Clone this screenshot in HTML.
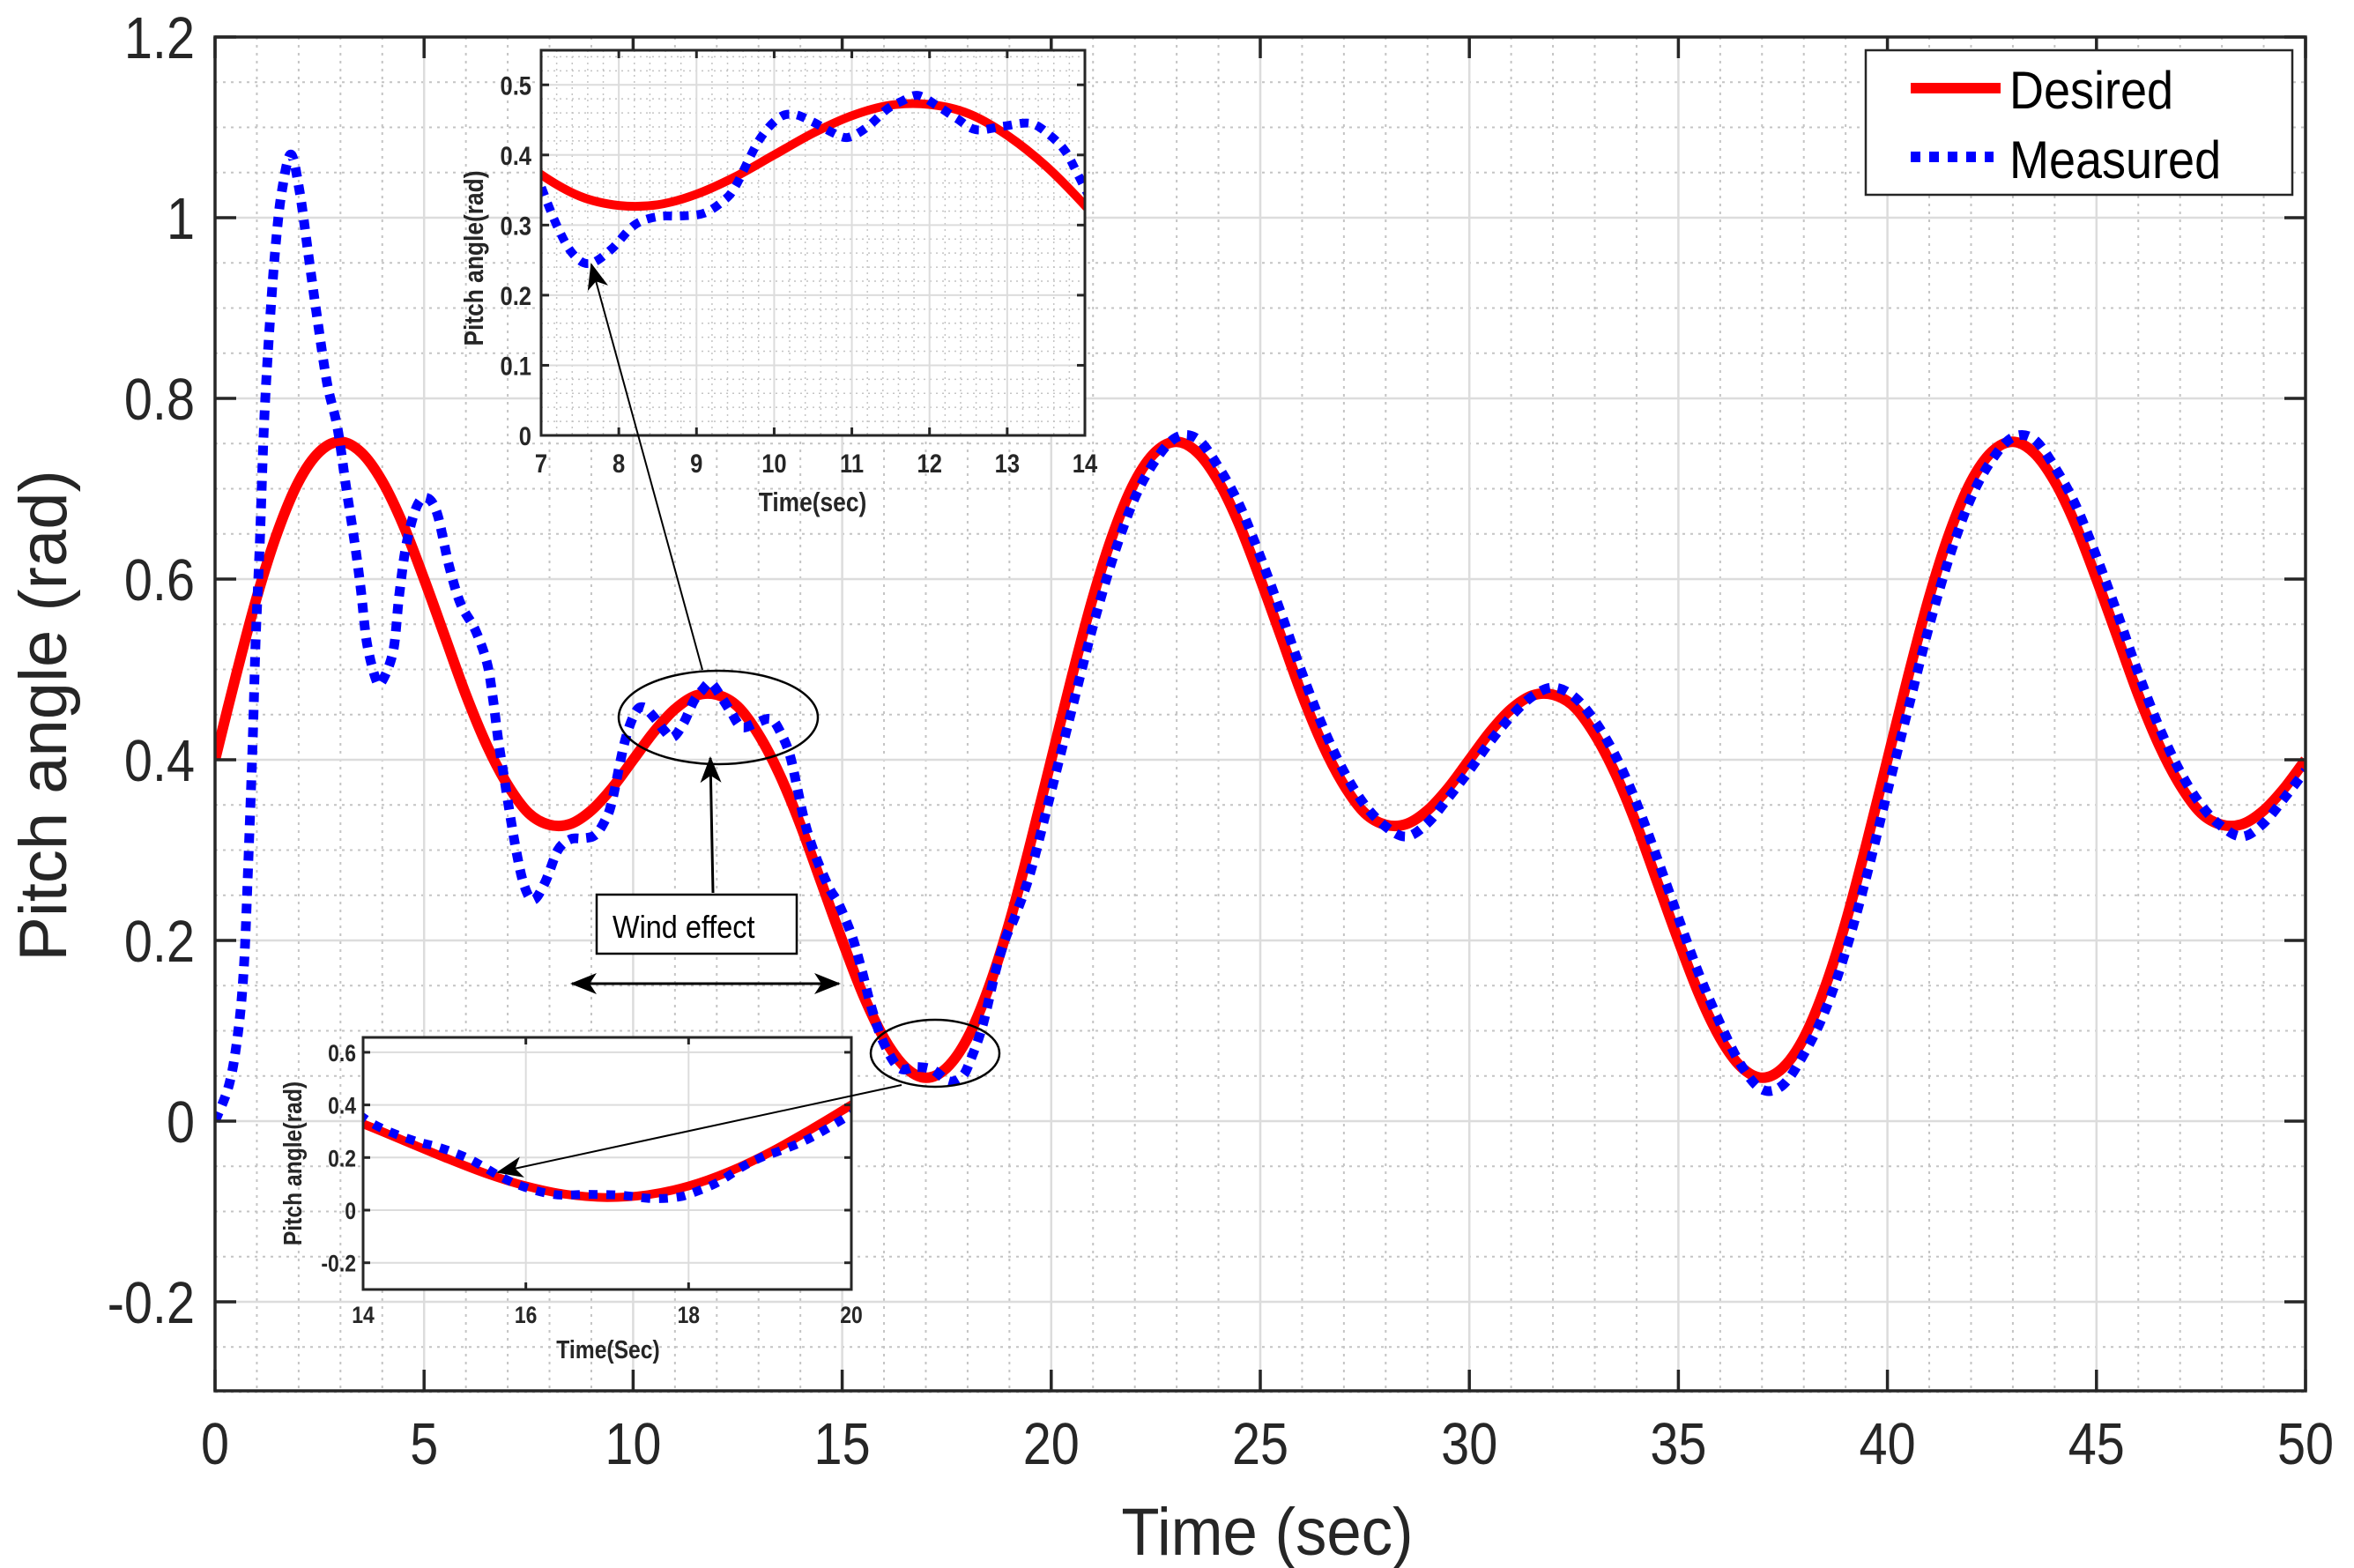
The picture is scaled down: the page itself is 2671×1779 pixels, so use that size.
<!DOCTYPE html>
<html><head><meta charset="utf-8">
<style>
html,body{margin:0;padding:0;background:#fff;}
svg{display:block;font-family:"Liberation Sans",Arial,sans-serif;}
</style></head>
<body>
<svg id="chart" xmlns="http://www.w3.org/2000/svg" width="2671" height="1779" viewBox="0 0 2671 1779">
<defs>
<clipPath id="clipMain"><rect x="244" y="42" width="2372" height="1538"/></clipPath>
<clipPath id="clipIn1"><rect x="614" y="57" width="617" height="437"/></clipPath>
<clipPath id="clipIn2"><rect x="412" y="1177" width="554" height="286"/></clipPath>
<marker id="ah" viewBox="0 0 30 24" refX="28" refY="12" markerWidth="30" markerHeight="24" markerUnits="userSpaceOnUse" orient="auto">
<path d="M0,0 L30,12 L0,24 L8,12 Z" fill="#000"/></marker>
</defs>
<rect x="0" y="0" width="2671" height="1779" fill="#fff"/>
<g id="mainGrid"></g>
<g id="mainSeries" clip-path="url(#clipMain)"></g>
<g id="mainAxes"></g>
<g id="annot"></g>
<g id="inset1"></g>
<g id="inset2"></g>
<g id="annotTop"></g>
<g id="legend"></g>
</svg>
<script>
// ---- data ----
const desiredV = [
0.400,0.493,0.580,0.653,0.708,0.741,0.752,0.740,0.708,0.660,0.600,0.536,0.472,0.416,0.372,0.341,0.328,0.329,0.344,0.369,
0.400,0.431,0.456,0.471,0.472,0.459,0.428,0.384,0.328,0.264,0.200,0.140,0.092,0.060,0.048,0.059,0.092,0.147,0.220,0.307,
0.400,0.493,0.580,0.653,0.708,0.741,0.752,0.740,0.708,0.660,0.600,0.536,0.472,0.416,0.372,0.341,0.328,0.329,0.344,0.369,
0.400,0.431,0.456,0.471,0.472,0.459,0.428,0.384,0.328,0.264,0.200,0.140,0.092,0.060,0.048,0.059,0.092,0.147,0.220,0.307,
0.400,0.493,0.580,0.653,0.708,0.741,0.752,0.740,0.708,0.660,0.600,0.536,0.472,0.416,0.372,0.341,0.328,0.329,0.344,0.369,
0.400];
const desiredStep = 0.5;
const measEarlyT = [0,0.34,0.55,0.69,0.79,0.90,0.97,1.07,1.18,1.32,1.46,1.6,1.81,2.02,2.23,2.44,2.68,2.93,3.14,3.35,3.49,3.63,3.84,3.98,4.26,4.4,4.57,4.82,5.06,5.31,5.59,5.87,6.22,6.5,6.64,6.78,6.92,7.0,7.2,7.4,7.62,7.9,8.2,8.5,8.8,9.1,9.35,9.5,9.8,10.05,10.25,10.5,10.75,10.95,11.2,11.45,11.65,11.85,12.1,12.35,12.6,12.95,13.3,13.55,13.75,13.92,14.11,14.35,14.68,14.92,15.24,15.48,15.68,15.96,16.36,16.76,17.16,17.56,17.88,18.08,18.36,18.68,18.92,19.12,19.5];
const measEarlyV = [0,0.041,0.098,0.17,0.28,0.42,0.53,0.64,0.78,0.89,0.975,1.03,1.07,1.03,0.96,0.89,0.817,0.767,0.70,0.637,0.587,0.53,0.49,0.486,0.52,0.58,0.637,0.68,0.69,0.673,0.616,0.573,0.544,0.508,0.47,0.42,0.379,0.355,0.30,0.26,0.245,0.265,0.30,0.312,0.313,0.317,0.335,0.355,0.42,0.452,0.458,0.447,0.432,0.425,0.44,0.465,0.477,0.485,0.47,0.452,0.436,0.441,0.445,0.428,0.405,0.37,0.33,0.295,0.259,0.24,0.204,0.165,0.129,0.09,0.059,0.06,0.057,0.044,0.05,0.069,0.106,0.168,0.204,0.225,0.275];
const measLateStart = 20, measLateStep = 0.5;
const measLateV = [0.365,0.457,0.548,0.627,0.690,0.732,0.757,0.755,0.724,0.682,0.625,0.562,0.496,0.436,0.387,0.350,0.326,0.315,0.330,0.358,
0.388,0.420,0.448,0.470,0.480,0.470,0.443,0.404,0.352,0.290,0.225,0.162,0.108,0.062,0.035,0.040,0.074,0.121,0.188,0.271,
0.365,0.457,0.548,0.627,0.690,0.732,0.757,0.755,0.724,0.682,0.625,0.562,0.496,0.436,0.387,0.350,0.326,0.315,0.330,0.358,0.388];
const xTicksMain = ["0","5","10","15","20","25","30","35","40","45","50"];
const yTicksMain = ["-0.2","0","0.2","0.4","0.6","0.8","1","1.2"];
const xTicksIn1 = ["7","8","9","10","11","12","13","14"];
const yTicksIn1 = ["0","0.1","0.2","0.3","0.4","0.5"];
const xTicksIn2 = ["14","16","18","20"];
const yTicksIn2 = ["-0.2","0","0.2","0.4","0.6"];
const legendLabels = ["Desired","Measured"];

const NS="http://www.w3.org/2000/svg";
function mk(tag, parent, attrs){const e=document.createElementNS(NS,tag);for(const k in attrs)e.setAttribute(k,attrs[k]);parent.appendChild(e);return e;}
function condense(t,f){const w=t.getComputedTextLength();t.setAttribute('textLength',(w*f).toFixed(1));t.setAttribute('lengthAdjust','spacingAndGlyphs');}

const desT=[],desV=[];
for(let i=0;i<desiredV.length;i++){desT.push(i*desiredStep);desV.push(desiredV[i]);}
const mT=measEarlyT.slice(), mV=measEarlyV.slice();
for(let i=0;i<measLateV.length;i++){mT.push(measLateStart+i*measLateStep);mV.push(measLateV[i]);}

function pathFrom(T,V,X,Y){
  const p=T.map((t,i)=>[X(t),Y(V[i])]);
  let d="M"+p[0][0].toFixed(1)+","+p[0][1].toFixed(1);
  for(let i=0;i<p.length-1;i++){
    const p0=p[Math.max(0,i-1)],p1=p[i],p2=p[i+1],p3=p[Math.min(p.length-1,i+2)];
    const c1x=p1[0]+(p2[0]-p0[0])/6,c1y=p1[1]+(p2[1]-p0[1])/6;
    const c2x=p2[0]-(p3[0]-p1[0])/6,c2y=p2[1]-(p3[1]-p1[1])/6;
    d+=" C"+c1x.toFixed(1)+","+c1y.toFixed(1)+" "+c2x.toFixed(1)+","+c2y.toFixed(1)+" "+p2[0].toFixed(1)+","+p2[1].toFixed(1);
  }
  return d;
}

// ---- main axes ----
const mX=t=>244+t*47.44, mY=v=>1272-v*1025;
const g=document.getElementById('mainGrid');
for(let t=0;t<=50;t++){ if(t%5===0) continue;
  const l=mk('line',g,{x1:mX(t),x2:mX(t),y1:42,y2:1580,stroke:'#c4c4c4','stroke-width':2,'stroke-dasharray':'3 6'});
  
  
}
for(let k=-6;k<=24;k++){ if(k%4===0) continue; const v=k*0.05;
  const l=mk('line',g,{x1:244,x2:2616,y1:mY(v),y2:mY(v),stroke:'#c4c4c4','stroke-width':2,'stroke-dasharray':'3 6'});
  
  
}
xTicksMain.forEach(s=>{const x=mX(parseFloat(s));
  const l=mk('line',g,{x1:x,x2:x,y1:42,y2:1580,stroke:'#dcdcdc','stroke-width':2.5});
  
  
});
yTicksMain.forEach(s=>{const y=mY(parseFloat(s));
  const l=mk('line',g,{x1:244,x2:2616,y1:y,y2:y,stroke:'#dcdcdc','stroke-width':2.5});
  
  
});
const ms=document.getElementById('mainSeries');
const dl=mk('path',ms,{d:pathFrom(desT,desV,mX,mY),fill:'none',stroke:'#ff0000','stroke-width':12,'stroke-linejoin':'round'});


const ml=mk('path',ms,{d:pathFrom(mT,mV,mX,mY),fill:'none',stroke:'#0000ff','stroke-width':11,'stroke-dasharray':'11 9'});



const ax=document.getElementById('mainAxes');
const box=mk('rect',ax,{x:244,y:42,width:2372,height:1536,fill:'none',stroke:'#262626','stroke-width':3.5});


xTicksMain.forEach(s=>{const x=mX(parseFloat(s));
  mk('line',ax,{x1:x,x2:x,y1:1578,y2:1554,stroke:'#262626','stroke-width':3.5});
  mk('line',ax,{x1:x,x2:x,y1:42,y2:66,stroke:'#262626','stroke-width':3.5});
  const t=mk('text',ax,{x:x,y:1661,'text-anchor':'middle','font-size':67,fill:'#262626'});t.textContent=s;
  
  
  condense(t,0.86);
});
yTicksMain.forEach(s=>{const y=mY(parseFloat(s));
  mk('line',ax,{x1:244,x2:268,y1:y,y2:y,stroke:'#262626','stroke-width':3.5});
  mk('line',ax,{x1:2616,x2:2592,y1:y,y2:y,stroke:'#262626','stroke-width':3.5});
  const t=mk('text',ax,{x:221,y:y+24,'text-anchor':'end','font-size':67,fill:'#262626'});t.textContent=s;
  
  
  condense(t,0.86);
});
const xt=mk('text',ax,{x:1438,y:1764,'text-anchor':'middle','font-size':76,fill:'#262626'});xt.textContent='Time (sec)';


condense(xt,0.93);
const yt=mk('text',ax,{x:0,y:0,'text-anchor':'middle','font-size':76,fill:'#262626',transform:'translate(75,812) rotate(-90)'});yt.textContent='Pitch angle (rad)';



// ---- annotations ----
const an=document.getElementById('annot');
const e1=mk('ellipse',an,{cx:815,cy:814,rx:113,ry:53,fill:'none',stroke:'#000','stroke-width':2.5});


const e2=mk('ellipse',an,{cx:1061,cy:1195,rx:73,ry:38,fill:'none',stroke:'#000','stroke-width':2.5});


const a1=mk('line',an,{x1:809,y1:1013,x2:806,y2:860,stroke:'#000','stroke-width':3,'marker-end':'url(#ah)'});


const wb=mk('rect',an,{x:677,y:1015,width:227,height:67,fill:'#fff',stroke:'#000','stroke-width':2.5});


const wt=mk('text',an,{x:695,y:1064,'font-size':36,fill:'#000'});wt.textContent='Wind effect';


condense(wt,0.9);
const da=mk('line',an,{x1:700,y1:1116,x2:952,y2:1116,stroke:'#000','stroke-width':3,'marker-end':'url(#ah)'});


const db=mk('line',an,{x1:900,y1:1116,x2:649,y2:1116,stroke:'#000','stroke-width':3,'marker-end':'url(#ah)'});



// ---- inset 1 ----
const i1=document.getElementById('inset1');
const i1X=t=>614+(t-7)*88.14, i1Y=v=>494-v*795.5;
const bg1=mk('rect',i1,{x:614,y:57,width:617,height:437,fill:'#fff'});


for(let k=35;k<70;k++){ if(k%5===0) continue; const x=i1X(k*0.2);
  mk('line',i1,{x1:x,x2:x,y1:57,y2:494,stroke:'#c4c4c4','stroke-width':1.5,'stroke-dasharray':'2 5'});}
for(let k=1;k<28;k++){ if(k%5===0) continue; const y=i1Y(k*0.02);
  mk('line',i1,{x1:614,x2:1231,y1:y,y2:y,stroke:'#c4c4c4','stroke-width':1.5,'stroke-dasharray':'2 5'});}
xTicksIn1.forEach(s=>{const x=i1X(parseFloat(s));mk('line',i1,{x1:x,x2:x,y1:57,y2:494,stroke:'#dcdcdc','stroke-width':2});});
yTicksIn1.forEach(s=>{const y=i1Y(parseFloat(s));mk('line',i1,{x1:614,x2:1231,y1:y,y2:y,stroke:'#dcdcdc','stroke-width':2});});
const i1s=mk('g',i1,{'clip-path':'url(#clipIn1)'});
const i1d=mk('path',i1s,{d:pathFrom(desT,desV,i1X,i1Y),fill:'none',stroke:'#ff0000','stroke-width':10});


const i1m=mk('path',i1s,{d:pathFrom(mT,mV,i1X,i1Y),fill:'none',stroke:'#0000ff','stroke-width':10,'stroke-dasharray':'10 9'});


const f1=mk('rect',i1,{x:614,y:57,width:617,height:437,fill:'none',stroke:'#262626','stroke-width':3});


xTicksIn1.forEach(s=>{const x=i1X(parseFloat(s));
  mk('line',i1,{x1:x,x2:x,y1:494,y2:485,stroke:'#262626','stroke-width':3});
  mk('line',i1,{x1:x,x2:x,y1:57,y2:66,stroke:'#262626','stroke-width':3});
  const t=mk('text',i1,{x:x,y:536,'text-anchor':'middle','font-size':30,'font-weight':'bold',fill:'#262626'});t.textContent=s;
  
  
  condense(t,0.85);
});
yTicksIn1.forEach(s=>{const y=i1Y(parseFloat(s));
  mk('line',i1,{x1:614,x2:623,y1:y,y2:y,stroke:'#262626','stroke-width':3});
  mk('line',i1,{x1:1231,x2:1222,y1:y,y2:y,stroke:'#262626','stroke-width':3});
  const t=mk('text',i1,{x:603,y:y+11,'text-anchor':'end','font-size':30,'font-weight':'bold',fill:'#262626'});t.textContent=s;
  
  
  condense(t,0.85);
});
const i1xt=mk('text',i1,{x:922,y:580,'text-anchor':'middle','font-size':31,'font-weight':'bold',fill:'#262626'});i1xt.textContent='Time(sec)';


condense(i1xt,0.85);
const i1yt=mk('text',i1,{x:0,y:0,'text-anchor':'middle','font-size':31,'font-weight':'bold',fill:'#262626',transform:'translate(548,293) rotate(-90)'});i1yt.textContent='Pitch angle(rad)';


condense(i1yt,0.85);

// ---- inset 2 ----
const i2=document.getElementById('inset2');
const i2X=t=>412+(t-14)*92.33, i2Y=v=>1373-v*298.5;
const bg2=mk('rect',i2,{x:412,y:1177,width:554,height:286,fill:'#fff'});


xTicksIn2.forEach(s=>{const x=i2X(parseFloat(s));mk('line',i2,{x1:x,x2:x,y1:1177,y2:1463,stroke:'#dcdcdc','stroke-width':2});});
yTicksIn2.forEach(s=>{const y=i2Y(parseFloat(s));mk('line',i2,{x1:412,x2:966,y1:y,y2:y,stroke:'#dcdcdc','stroke-width':2});});
const i2s=mk('g',i2,{'clip-path':'url(#clipIn2)'});
const i2d=mk('path',i2s,{d:pathFrom(desT,desV,i2X,i2Y),fill:'none',stroke:'#ff0000','stroke-width':10});


const i2m=mk('path',i2s,{d:pathFrom(mT,mV,i2X,i2Y),fill:'none',stroke:'#0000ff','stroke-width':10,'stroke-dasharray':'10 10'});


const f2=mk('rect',i2,{x:412,y:1177,width:554,height:286,fill:'none',stroke:'#262626','stroke-width':3});


xTicksIn2.forEach(s=>{const x=i2X(parseFloat(s));
  mk('line',i2,{x1:x,x2:x,y1:1463,y2:1455,stroke:'#262626','stroke-width':3});
  mk('line',i2,{x1:x,x2:x,y1:1177,y2:1185,stroke:'#262626','stroke-width':3});
  const t=mk('text',i2,{x:x,y:1501,'text-anchor':'middle','font-size':27,'font-weight':'bold',fill:'#262626'});t.textContent=s;
  
  
  condense(t,0.85);
});
yTicksIn2.forEach(s=>{const y=i2Y(parseFloat(s));
  mk('line',i2,{x1:412,x2:420,y1:y,y2:y,stroke:'#262626','stroke-width':3});
  mk('line',i2,{x1:966,x2:958,y1:y,y2:y,stroke:'#262626','stroke-width':3});
  const t=mk('text',i2,{x:404,y:y+10,'text-anchor':'end','font-size':27,'font-weight':'bold',fill:'#262626'});t.textContent=s;
  
  
  condense(t,0.85);
});
const i2xt=mk('text',i2,{x:690,y:1541,'text-anchor':'middle','font-size':29,'font-weight':'bold',fill:'#262626'});i2xt.textContent='Time(Sec)';


condense(i2xt,0.85);
const i2yt=mk('text',i2,{x:0,y:0,'text-anchor':'middle','font-size':29,'font-weight':'bold',fill:'#262626',transform:'translate(342,1320) rotate(-90)'});i2yt.textContent='Pitch angle(rad)';


condense(i2yt,0.85);

// ---- pointer arrows drawn over insets ----
const at=document.getElementById('annotTop');
const a2=mk('line',at,{x1:797,y1:760,x2:671,y2:300,stroke:'#000','stroke-width':2,'marker-end':'url(#ah)'});


const a3=mk('line',at,{x1:1023,y1:1231,x2:565,y2:1330,stroke:'#000','stroke-width':2,'marker-end':'url(#ah)'});



// ---- legend ----
const lg=document.getElementById('legend');
const lb=mk('rect',lg,{x:2117,y:57,width:484,height:164,fill:'#fff',stroke:'#262626','stroke-width':2.5});


const l1=mk('line',lg,{x1:2168,x2:2270,y1:100,y2:100,stroke:'#ff0000','stroke-width':12});


const l2=mk('line',lg,{x1:2168,x2:2262,y1:178,y2:178,stroke:'#0000ff','stroke-width':12,'stroke-dasharray':'11 10'});


const lt1=mk('text',lg,{x:2280,y:123,'font-size':60,fill:'#000'});lt1.textContent=legendLabels[0];


condense(lt1,0.9);
const lt2=mk('text',lg,{x:2280,y:202,'font-size':60,fill:'#000'});lt2.textContent=legendLabels[1];


condense(lt2,0.9);
</script>
</body></html>
